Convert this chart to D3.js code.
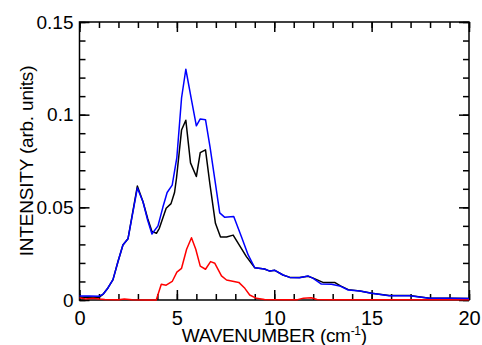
<!DOCTYPE html>
<html>
<head>
<meta charset="utf-8">
<script src="https://cdn.jsdelivr.net/npm/d3@7"></script>
<style>
  body { margin: 0; background: #fff; }
  svg { display: block; font-family: "Liberation Sans", Arial, sans-serif; }
</style>
</head>
<body>
<svg width="482" height="345"></svg>
<script>
// [wavenumber, intensity]
const blueData = [
  [0, 0.0022], [0.5, 0.0022], [1.0, 0.002], [1.2, 0.003], [1.46, 0.0065], [1.72, 0.011],
  [1.97, 0.0205], [2.23, 0.0297], [2.49, 0.033], [2.97, 0.0604], [3.26, 0.053], [3.5, 0.043],
  [3.72, 0.0356], [4.03, 0.040], [4.28, 0.050], [4.5, 0.058], [4.76, 0.062], [5.0, 0.077],
  [5.24, 0.109], [5.46, 0.1245], [5.75, 0.108], [6.0, 0.094], [6.2, 0.0977], [6.47, 0.0973],
  [6.7, 0.0827], [6.95, 0.065], [7.2, 0.047], [7.46, 0.0446], [7.92, 0.045], [8.32, 0.034],
  [8.66, 0.0243], [9.0, 0.0174], [9.5, 0.0167], [9.77, 0.0156], [10.03, 0.016], [10.45, 0.0135],
  [10.8, 0.0122], [11.3, 0.012], [11.73, 0.013], [12.0, 0.0117], [12.42, 0.0086], [12.93, 0.0085],
  [13.36, 0.0076], [13.8, 0.0054], [14.4, 0.0049], [15.0, 0.0036], [15.9, 0.0023], [16.95, 0.0023],
  [17.97, 0.0009], [19.0, 0.0009], [20, 0.0008]
];

const blackData = [
  [0, 0.0015], [0.5, 0.0016], [1.0, 0.0014], [1.2, 0.003], [1.46, 0.0065], [1.72, 0.011],
  [1.97, 0.0205], [2.23, 0.0297], [2.49, 0.033], [2.97, 0.0615], [3.26, 0.053], [3.5, 0.044],
  [3.72, 0.037], [3.95, 0.036], [4.1, 0.0387], [4.45, 0.0495], [4.7, 0.052], [4.88, 0.058],
  [4.98, 0.0657], [5.24, 0.0917], [5.46, 0.097], [5.7, 0.074], [6.0, 0.0666], [6.2, 0.0795],
  [6.47, 0.081], [6.69, 0.063], [6.98, 0.0414], [7.24, 0.034], [7.55, 0.034], [7.89, 0.035],
  [8.57, 0.0234], [9.0, 0.0174], [9.5, 0.0167], [9.77, 0.0156], [10.03, 0.016], [10.45, 0.0135],
  [10.8, 0.0122], [11.3, 0.0122], [11.73, 0.0128], [12.0, 0.0118], [12.5, 0.0095], [13.1, 0.0095],
  [13.4, 0.0076], [13.8, 0.0056], [14.4, 0.0049], [15.0, 0.0036], [15.9, 0.0024], [16.95, 0.0024],
  [17.97, 0.001], [19.0, 0.0009], [20, 0.0008]
];

const redData = [
  [0, 0.0012], [0.3, 0.0006], [0.7, 0.0009], [1.0, 0.0005], [1.3, 0.0003], [2.0, 0.0002],
  [2.3, 0.0005], [2.7, 0.0001], [3.5, 0], [3.94, 0], [4.2, 0.0085], [4.45, 0.008], [4.76, 0.010],
  [5.0, 0.015], [5.24, 0.0171], [5.5, 0.0274], [5.75, 0.0336], [5.97, 0.0274], [6.2, 0.0183],
  [6.47, 0.0166], [6.73, 0.0207], [6.95, 0.0198], [7.29, 0.013], [7.55, 0.0108], [8.18, 0.0095],
  [8.49, 0.0063], [8.74, 0.0027], [9.09, 0.0009], [9.5, 0.0003], [10.5, 0.0002], [11.2, 0.0002],
  [11.5, 0.001], [11.9, 0.0012], [12.2, 0.0003], [13, 0.0002], [20, 0.0002]
];

const xTicks = [0, 5, 10, 15, 20];
const xMinorTicks = d3.range(0, 21, 1);
const yTicks = [0, 0.05, 0.1, 0.15];
const yMinorTicks = d3.range(0, 0.151, 0.01);

const svg = d3.select("svg");
const width = +svg.attr("width");
const height = +svg.attr("height");

const margin = { top: 22, right: 13, bottom: 45, left: 79.5 };
const graphWidth = width - margin.left - margin.right;
const graphHeight = height - margin.top - margin.bottom;

const xScale = d3.scaleLinear().domain([0, 20]).range([0, graphWidth]);
const yScale = d3.scaleLinear().domain([0, 0.15]).range([graphHeight, 0]);

const graph = svg
  .append("g")
  .attr("transform", `translate(${margin.left}, ${margin.top})`);

const majorLen = 10;
const minorLen = 6;

// ticks point inward on all four sides
const addAxis = (axis, tx, ty, labels) => {
  const g = graph.append("g")
    .attr("transform", `translate(${tx}, ${ty})`)
    .call(axis);
  g.select(".domain").remove();
  g.selectAll(".tick line").attr("stroke", "#000").attr("stroke-width", 1.5);
  if (!labels) g.selectAll(".tick text").remove();
  return g;
};

addAxis(d3.axisBottom(xScale).tickValues(xMinorTicks).tickSize(-minorLen).tickFormat(""), 0, graphHeight);
addAxis(d3.axisTop(xScale).tickValues(xMinorTicks).tickSize(-minorLen).tickFormat(""), 0, 0);
addAxis(d3.axisLeft(yScale).tickValues(yMinorTicks).tickSize(-minorLen).tickFormat(""), 0, 0);
addAxis(d3.axisRight(yScale).tickValues(yMinorTicks).tickSize(-minorLen).tickFormat(""), graphWidth, 0);

addAxis(d3.axisTop(xScale).tickValues(xTicks).tickSize(-majorLen).tickFormat(""), 0, 0);
addAxis(d3.axisRight(yScale).tickValues(yTicks).tickSize(-majorLen).tickFormat(""), graphWidth, 0);

const xAxisG = addAxis(
  d3.axisBottom(xScale).tickValues(xTicks).tickSize(-majorLen).tickPadding(0).tickFormat(d3.format("d")),
  0, graphHeight, true);
xAxisG.selectAll(".tick text")
  .attr("y", 25)
  .attr("dy", 0)
  .attr("fill", "#000")
  .attr("font-size", 20)
  .attr("font-family", "Liberation Sans, Arial, sans-serif");

const yAxisG = addAxis(
  d3.axisLeft(yScale).tickValues(yTicks).tickSize(-majorLen).tickFormat(d3.format("~g")),
  0, 0, true);
yAxisG.selectAll(".tick text")
  .attr("x", -6)
  .attr("fill", "#000")
  .attr("font-size", 19)
  .attr("font-family", "Liberation Sans, Arial, sans-serif");

// frame
graph.append("rect")
  .attr("width", graphWidth)
  .attr("height", graphHeight)
  .attr("fill", "none")
  .attr("stroke", "#000")
  .attr("stroke-width", 1.5);

const line = d3.line()
  .x(d => xScale(d[0]))
  .y(d => yScale(d[1]));

const series = [
  { data: blackData, color: "#000000" },
  { data: redData, color: "#ff0000" },
  { data: blueData, color: "#0000ff" }
];

graph.selectAll("path.series")
  .data(series)
  .enter()
  .append("path")
  .attr("class", "series")
  .attr("d", d => line(d.data))
  .attr("fill", "none")
  .attr("stroke", d => d.color)
  .attr("stroke-width", 1.5)
  .attr("stroke-linejoin", "round");

// axis titles
const xTitle = svg.append("text")
  .attr("x", margin.left + graphWidth / 2)
  .attr("y", 342)
  .attr("text-anchor", "middle")
  .attr("font-size", 19)
  .attr("letter-spacing", -0.3)
  .attr("fill", "#000");
xTitle.append("tspan").text("WAVENUMBER (cm");
xTitle.append("tspan").text("-1").attr("font-size", 12).attr("dy", -7);
xTitle.append("tspan").text(")").attr("dy", 7);

svg.append("text")
  .attr("transform", `translate(33, ${margin.top + graphHeight / 2}) rotate(-90)`)
  .attr("text-anchor", "middle")
  .attr("font-size", 19)
  .attr("letter-spacing", -0.2)
  .attr("fill", "#000")
  .text("INTENSITY (arb. units)");
</script>
</body>
</html>
